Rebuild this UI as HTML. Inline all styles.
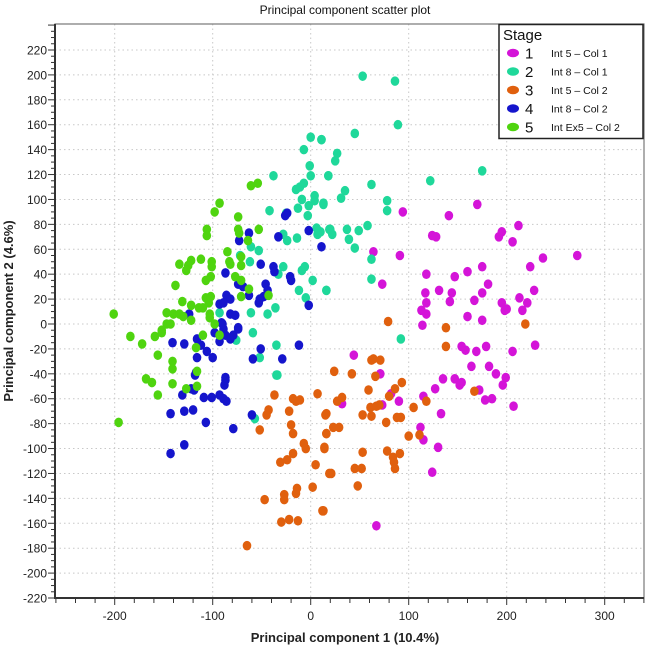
<!DOCTYPE html>
<html><head><meta charset="utf-8"><style>
body{margin:0;background:#fff;width:646px;height:647px;overflow:hidden}
svg{display:block;font-family:"Liberation Sans",Arial,sans-serif}
</style></head><body>
<svg id="chart" width="646" height="647">
<text x="345" y="14" text-anchor="middle" font-size="12" fill="#111">Principal component scatter plot</text>
<g id="grid"></g>
<g id="axes"></g>
<g id="points"></g>
<text x="345" y="642" text-anchor="middle" font-size="13" font-weight="bold" fill="#222">Principal component 1 (10.4%)</text>
<text transform="translate(13,311) rotate(-90)" text-anchor="middle" font-size="13" font-weight="bold" fill="#222">Principal component 2 (4.6%)</text>
<g id="legend"></g>
</svg>
<script>
const xTicks=[-200,-100,0,100,200,300];
const yTicks=[220,200,180,160,140,120,100,80,60,40,20,0,-20,-40,-60,-80,-100,-120,-140,-160,-180,-200,-220];
const seriesNames=["Int 5 – Col 1","Int 8 – Col 1","Int 5 – Col 2","Int 8 – Col 2","Int Ex5 – Col 2"];
const seriesColors=["#d414d8","#1fd89a","#e0600e","#1515cc","#4fd40f"];
const stage1X=[94,141,170,212,195,192,206,124,128,64,91,237,272,224,175,160,147,118,73,181,228,131,144,117,175,213,167,142,118,195,221,200,198,216,113,118,160,175,114,229,206,44,154,158,169,179,164,182,189,199,196,135,147,152,154,172,178,185,207,127,115,90,82,73,71,32,133,112,115,130,124,67];
const stage1Y=[90,87,96,79,74,70,66,71,70,58,55,53,55,46,46,42,38,40,32,32,27,27,25,25,25,21,19,18,17,17,17,12,11,11,11,8,6,3,-1,-17,-22,-25,-18,-21,-22,-18,-34,-34,-40,-43,-49,-44,-44,-49,-47,-53,-61,-60,-66,-52,-58,-62,-56,-65,-40,-64,-72,-83,-93,-99,-119,-162];
const stage2X=[53,86,89,45,11,27,25,18,62,35,31,13,78,78,122,175,58,49,37,20,22,39,45,62,62,16,10,92,-38,-42,-25,-28,-24,-14,-13,-15,-9,-11,-7,-1,0,11,-7,0,18,4,4,13,-2,-3,6,7,19,-53,-62,-72,-61,-28,-33,-9,-6,2,-12,16,-36,-44,-61,-93,-5,-59,-76,-35,-34,-52,-35,-57];
const stage2Y=[199,195,160,153,148,137,131,119,112,107,101,96,99,91,115,123,79,75,76,76,72,68,61,52,36,27,74,-12,119,91,89,72,67,69,93,108,100,110,113,127,150,148,140,119,119,103,99,97,95,87,77,72,76,59,50,55,62,46,40,43,46,35,27,27,13,8,9,9,21,-7,-13,-41,-41,-27,-17,-76];
const stage3X=[-65,-47,-37,-43,-45,-52,-31,-27,-27,-30,-22,-24,-18,-13,-15,-14,-22,-20,-18,-18,-15,-11,-7,-5,5,2,7,14,12,15,16,19,79,138,138,219,62,64,71,24,42,66,93,86,80,59,167,118,105,27,32,61,67,70,53,62,16,77,88,92,23,29,16,100,111,14,53,78,91,84,85,86,45,52,21,48,13];
const stage3Y=[-178,-141,-57,-69,-73,-85,-111,-137,-141,-159,-157,-109,-104,-158,-136,-132,-70,-81,-88,-60,-62,-61,-96,-100,-113,-131,-56,-100,-150,-73,-88,-120,2,-3,-18,0,-29,-28,-29,-38,-40,-42,-47,-52,-58,-53,-54,-62,-67,-62,-59,-67,-66,-65,-73,-74,-72,-79,-75,-75,-83,-83,-88,-90,-89,-99,-103,-102,-104,-107,-111,-116,-116,-116,-120,-130,-150];
const stage4X=[-141,-129,-116,-112,-116,-106,-100,-118,-117,-91,-89,-98,-93,-87,-82,-79,-74,-131,-122,-119,-109,-101,-93,-89,-86,-88,-87,-87,-143,-129,-120,-107,-79,-129,-143,-60,-59,-51,-29,-12,11,-24,-26,-2,-33,-63,-73,-51,-38,-37,-21,-20,-87,-74,-69,-63,-46,-44,-48,-53,-52,-86,-82,-93,-89,-82,-77,-2,-124,-90,-74];
const stage4Y=[-15,-16,-12,-17,-27,-22,-27,-41,-39,1,-4,-7,-14,-9,-12,-9,-4,-57,-52,-53,-59,-59,-57,-60,-62,-49,-45,-43,-72,-70,-69,-79,-84,-97,-104,-73,-28,-20,-28,-17,62,89,87,75,70,73,67,48,46,42,38,35,41,32,30,23,32,27,22,17,20,23,20,16,17,8,7,15,8,0,-3];
const stage5X=[-201,-61,-54,-93,-98,-106,-106,-74,-74,-73,-53,-64,-85,-134,-122,-125,-127,-112,-101,-101,-83,-82,-71,-71,-138,-107,-102,-77,-71,-131,-122,-114,-110,-107,-102,-104,-71,-63,-43,-147,-140,-134,-130,-122,-103,-103,-147,-143,-98,-152,-184,-172,-159,-152,-156,-168,-162,-156,-141,-141,-141,-117,-116,-116,-127,-110,-93,-196];
const stage5Y=[8,111,113,97,90,76,71,86,76,73,76,67,58,48,51,47,43,52,50,46,50,48,47,54,31,35,38,38,35,18,15,13,13,21,22,17,22,28,23,9,8,8,6,3,8,5,0,0,0,-5,-10,-16,-10,-7,-25,-44,-47,-57,-30,-36,-48,-19,-38,-50,-52,-9,-9,-79];
const allX=[stage1X,stage2X,stage3X,stage4X,stage5X];
const allY=[stage1Y,stage2Y,stage3Y,stage4Y,stage5Y];

const NS="http://www.w3.org/2000/svg";
const L=55,R=644,T=24,B=598;
function sx(v){return 310.7+v*0.98;}
function sy(v){return 324-v*1.2455;}
function mk(tag,attrs,parent){const e=document.createElementNS(NS,tag);for(const k in attrs)e.setAttribute(k,attrs[k]);parent.appendChild(e);return e;}
const grid=document.getElementById('grid'),axes=document.getElementById('axes'),pts=document.getElementById('points'),leg=document.getElementById('legend');
for(const t of yTicks){
  const g=mk('line',{x1:L,x2:R,y1:sy(t),y2:sy(t),stroke:'#c8c8c8','stroke-dasharray':'1.5,3','stroke-width':1},grid);
  
  
  const tl=mk('text',{x:L-8,y:sy(t)+4.5,'text-anchor':'end','font-size':12,fill:'#222'},axes);
  tl.textContent=t;
  
  
}
for(const t of xTicks){
  const g=mk('line',{x1:sx(t),x2:sx(t),y1:T,y2:B,stroke:'#c8c8c8','stroke-dasharray':'1.5,3','stroke-width':1},grid);
  
  
  const tl=mk('text',{x:sx(t),y:B+22,'text-anchor':'middle','font-size':12,fill:'#222'},axes);
  tl.textContent=t;
  
  
}
for(let v=-220;v<=240;v+=5){const y=sy(v);const big=v%20===0;mk('line',{x1:L-(big?7:4),x2:L,y1:y,y2:y,stroke:'#333','stroke-width':1},axes);}
for(let v=-260;v<=340;v+=20){const x=sx(v);if(x<L||x>R)continue;const big=v%100===0;mk('line',{x1:x,x2:x,y1:B,y2:B+(big?7:5),stroke:'#333','stroke-width':1},axes);}
mk('rect',{x:L,y:T,width:R-L,height:B-T,fill:'none',stroke:'#777','stroke-width':1.2},axes);
mk('line',{x1:L,x2:L,y1:T,y2:B+1,stroke:'#333','stroke-width':2},axes);
mk('line',{x1:L-1,x2:R,y1:B,y2:B,stroke:'#333','stroke-width':2},axes);
for(let s=0;s<allX.length;s++){
  for(let i=0;i<allX[s].length;i++){
    const c=mk('ellipse',{cx:sx(allX[s][i]),cy:sy(allY[s][i]),rx:4.3,ry:4.8,fill:seriesColors[s]},pts);
    
    
  }
}
mk('rect',{x:499,y:24.5,width:144,height:114,fill:'#fff',stroke:'#222','stroke-width':1.5},leg);
const st=mk('text',{x:503,y:40,'font-size':15,fill:'#111'},leg);st.textContent='Stage';
for(let s=0;s<seriesNames.length;s++){
  const y=53+s*18.5;
  const e=mk('ellipse',{cx:513,cy:y,rx:6,ry:4.3,fill:seriesColors[s]},leg);
  
  
  const n=mk('text',{x:525,y:y+5.5,'font-size':15,fill:'#111'},leg);n.textContent=String(s+1);
  
  
  const t=mk('text',{x:551,y:y+4,'font-size':10.5,fill:'#111'},leg);t.textContent=seriesNames[s];
  
  
}
</script>
</body></html>
